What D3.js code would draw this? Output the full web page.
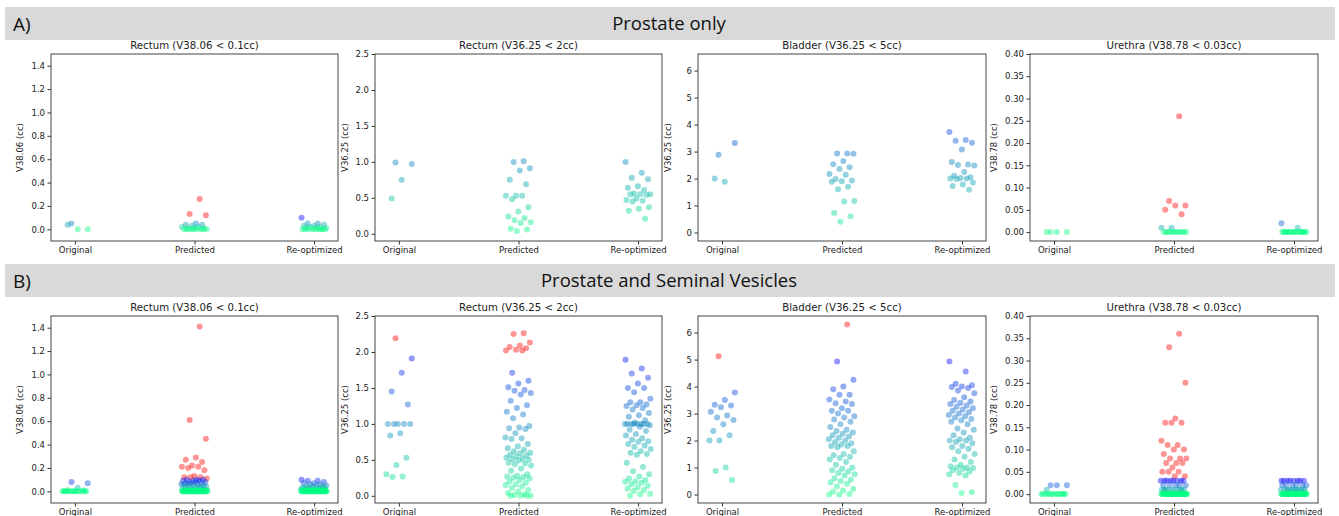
<!DOCTYPE html>
<html>
<head>
<meta charset="utf-8">
<script src="https://cdn.jsdelivr.net/npm/d3@7"></script>
<style>
  body { margin: 0; background: #fff; }
  svg { display: block; font-family: "DejaVu Sans", sans-serif; }
</style>
</head>
<body>
<svg id="chart" width="1339" height="516"></svg>
<script>
const categories = ["Original", "Predicted", "Re-optimized"];
const rowLetters = ["A)", "B)"];
const rowTitles = ["Prostate only", "Prostate and Seminal Vesicles"];
const panelTitles = ["Rectum (V38.06 < 0.1cc)", "Rectum (V36.25 < 2cc)", "Bladder (V36.25 < 5cc)", "Urethra (V38.78 < 0.03cc)"];
const yLabels = ["V38.06 (cc)", "V36.25 (cc)", "V36.25 (cc)", "V38.78 (cc)"];
const limits = [0.1, 2, 5, 0.03];
const yDomains = [[-0.1, 1.5], [-0.1, 2.5], [-0.315, 6.615], [-0.02, 0.4]];
const yTicks = [
  [0, 0.2, 0.4, 0.6, 0.8, 1.0, 1.2, 1.4],
  [0, 0.5, 1.0, 1.5, 2.0, 2.5],
  [0, 1, 2, 3, 4, 5, 6],
  [0, 0.05, 0.10, 0.15, 0.20, 0.25, 0.30, 0.35, 0.40]
];
const yFormats = [".1f", ".1f", "d", ".2f"];

// A) prostate only
const aRect38Orig = [0.05, 0, 0, 0.04];
const aRect38Pred = [0.26, 0.13, 0.12, 0.05, 0.04, 0.04, 0.03, 0.02, 0.02, 0.01, 0.01, 0.01, 0, 0, 0, 0, 0, 0, 0, 0];
const aRect38Reopt = [0.10, 0.05, 0.05, 0.04, 0.03, 0.03, 0.02, 0.02, 0.01, 0.01, 0.01, 0, 0, 0, 0, 0, 0, 0, 0, 0];
const aRect36Orig = [0.99, 0.97, 0.75, 0.49];
const aRect36Pred = [1.01, 1.0, 0.91, 0.88, 0.75, 0.69, 0.53, 0.53, 0.53, 0.48, 0.37, 0.31, 0.24, 0.22, 0.19, 0.16, 0.15, 0.07, 0.06, 0.04];
const aRect36Reopt = [1.0, 0.85, 0.78, 0.76, 0.66, 0.64, 0.61, 0.56, 0.55, 0.55, 0.55, 0.54, 0.49, 0.47, 0.46, 0.45, 0.37, 0.35, 0.32, 0.21];
const aBladOrig = [2.88, 3.32, 1.88, 2.0];
const aBladPred = [2.93, 2.93, 2.92, 2.65, 2.53, 2.42, 2.35, 2.17, 2.14, 1.98, 1.93, 1.9, 1.88, 1.7, 1.6, 1.17, 1.15, 0.72, 0.6, 0.4];
const aBladReopt = [3.72, 3.43, 3.4, 3.33, 3.08, 2.61, 2.52, 2.5, 2.48, 2.24, 2.1, 2.05, 2.02, 2.0, 2.0, 1.98, 1.85, 1.78, 1.72, 1.58];
const aUretOrig = [0, 0, 0, 0];
const aUretPred = [0.26, 0.07, 0.06, 0.06, 0.05, 0.04, 0.01, 0.01, 0, 0, 0, 0, 0, 0, 0, 0, 0, 0, 0, 0];
const aUretReopt = [0.02, 0.01, 0, 0, 0, 0, 0, 0, 0, 0, 0, 0, 0, 0, 0, 0, 0, 0, 0, 0];

// B) prostate and seminal vesicles
const bRect38Orig = [0.08, 0.07, 0.03, 0.01, 0.01, 0, 0, 0, 0, 0, 0, 0, 0, 0, 0, 0, 0, 0, 0, 0];
const bRect38Pred = [1.41, 0.61, 0.45, 0.29, 0.27, 0.25, 0.22, 0.21, 0.21, 0.20, 0.18, 0.13, 0.12, 0.12, 0.12, 0.11,
  0.10, 0.10, 0.10, 0.09, 0.09, 0.09, 0.08, 0.08, 0.08, 0.07, 0.07, 0.07, 0.06, 0.06, 0.06, 0.05, 0.05, 0.05,
  0.04, 0.04, 0.04, 0.03, 0.03, 0.03, 0.02, 0.02, 0.02, 0.02, 0.01, 0.01, 0.01, 0.01, 0.01, 0.01,
  0, 0, 0, 0, 0, 0, 0, 0, 0, 0, 0, 0, 0, 0, 0, 0, 0, 0, 0, 0,
  0, 0, 0, 0, 0, 0, 0, 0, 0, 0, 0, 0, 0, 0, 0, 0, 0, 0, 0, 0];
const bRect38Reopt = [0.10, 0.09, 0.09, 0.08, 0.07, 0.07, 0.06, 0.06, 0.05, 0.05, 0.04, 0.04, 0.04, 0.03, 0.03, 0.03, 0.03,
  0.02, 0.02, 0.02, 0.02, 0.02, 0.01, 0.01, 0.01, 0.01, 0.01, 0.01, 0.01, 0.01, 0.01, 0.01,
  0, 0, 0, 0, 0, 0, 0, 0, 0, 0, 0, 0, 0, 0, 0, 0, 0, 0, 0, 0,
  0, 0, 0, 0, 0, 0, 0, 0, 0, 0, 0, 0, 0, 0, 0, 0, 0, 0, 0, 0];
const bRect36Orig = [2.19, 1.91, 1.71, 1.45, 1.27, 1.0, 1.0, 1.0, 1.0, 1.0, 0.87, 0.84, 0.53, 0.43, 0.30, 0.27, 0.26];
const bRect36Pred = [2.26, 2.25, 2.13, 2.09, 2.07, 2.05, 2.03, 2.02, 2.02,
  1.71, 1.60, 1.56, 1.51, 1.47, 1.46, 1.43, 1.41, 1.32, 1.26, 1.22, 1.17, 1.13, 1.08,
  0.97, 0.95, 0.94, 0.93, 0.87, 0.81, 0.80, 0.79, 0.72, 0.69, 0.66, 0.64, 0.62, 0.60, 0.59, 0.57, 0.56, 0.55,
  0.53, 0.52, 0.51, 0.50, 0.49, 0.46, 0.45, 0.44, 0.42, 0.38, 0.35, 0.30, 0.28, 0.27, 0.26, 0.25, 0.24, 0.22,
  0.20, 0.18, 0.16, 0.15, 0.13, 0.11, 0.08, 0.06, 0.04, 0.02, 0.01, 0, 0, 0, 0];
const bRect36Reopt = [1.89, 1.77, 1.70, 1.64, 1.56, 1.50, 1.50, 1.44, 1.35, 1.30, 1.30, 1.27, 1.26, 1.25, 1.22, 1.20,
  1.15, 1.12, 1.10, 1.05, 1.02, 1.0, 1.0, 1.0, 1.0, 1.0, 1.0, 1.0, 1.0, 0.98, 0.96, 0.92, 0.90, 0.86, 0.84,
  0.80, 0.78, 0.76, 0.75, 0.72, 0.70, 0.68, 0.65, 0.62, 0.60, 0.58, 0.57, 0.46, 0.40, 0.34, 0.30, 0.27, 0.24,
  0.22, 0.20, 0.20, 0.18, 0.16, 0.14, 0.12, 0.10, 0.08, 0.07, 0.03, 0.02, 0];
const bBladOrig = [5.12, 3.78, 3.5, 3.33, 3.3, 3.23, 3.07, 2.93, 2.85, 2.76, 2.6, 2.35, 2.2, 2.0, 2.0, 1.0, 0.87, 0.54];
const bBladPred = [6.3, 4.93, 4.25, 4.0, 3.9, 3.7, 3.7, 3.52, 3.45, 3.38, 3.35, 3.2, 3.1, 3.1, 3.0, 2.9, 2.85, 2.78,
  2.7, 2.6, 2.5, 2.4, 2.35, 2.3, 2.25, 2.2, 2.15, 2.1, 2.05, 2.0, 1.95, 1.9, 1.85, 1.8, 1.8, 1.75, 1.6, 1.5,
  1.45, 1.4, 1.35, 1.3, 1.2, 1.1, 1.0, 0.95, 0.9, 0.85, 0.8, 0.75, 0.7, 0.6, 0.55, 0.5, 0.45, 0.4, 0.3, 0.2,
  0.15, 0.1, 0.02, 0.0, 0.0];
const bBladReopt = [4.93, 4.56, 4.1, 4.05, 4.0, 3.98, 3.95, 3.85, 3.75, 3.6, 3.5, 3.45, 3.4, 3.35, 3.3, 3.25, 3.2,
  3.15, 3.1, 3.05, 3.0, 2.95, 2.9, 2.85, 2.8, 2.75, 2.7, 2.6, 2.45, 2.4, 2.3, 2.2, 2.1, 2.05, 2.0, 2.0, 1.95,
  1.9, 1.8, 1.75, 1.7, 1.6, 1.5, 1.4, 1.3, 1.2, 1.1, 1.05, 1.0, 1.0, 0.98, 0.95, 0.9, 0.85, 0.8, 0.75, 0.7,
  0.35, 0.08, 0.06];
const bUretOrig = [0.02, 0.02, 0.02, 0.01, 0, 0, 0, 0, 0, 0, 0, 0, 0, 0, 0, 0, 0, 0];
const bUretPred = [0.36, 0.33, 0.25, 0.17, 0.16, 0.16, 0.16, 0.12, 0.11, 0.11, 0.10, 0.10, 0.09, 0.08, 0.08, 0.08,
  0.07, 0.07, 0.07, 0.06, 0.05, 0.05, 0.05, 0.04, 0.04,
  0.03, 0.03, 0.03, 0.03, 0.03, 0.03, 0.03, 0.03, 0.02, 0.02, 0.02, 0.02, 0.02,
  0.01, 0.01, 0.01, 0.01, 0.01, 0.01, 0.01, 0.01, 0.01, 0.01,
  0, 0, 0, 0, 0, 0, 0, 0, 0, 0, 0, 0, 0, 0, 0, 0, 0, 0, 0, 0,
  0, 0, 0, 0, 0, 0, 0, 0, 0, 0, 0, 0, 0, 0, 0, 0, 0, 0, 0, 0];
const bUretReopt = [0.03, 0.03, 0.03, 0.03, 0.03, 0.03, 0.03, 0.03, 0.02, 0.02, 0.02, 0.02, 0.02, 0.02,
  0.01, 0.01, 0.01, 0.01, 0.01, 0.01, 0.01, 0.01, 0.01, 0.01, 0.01, 0.01,
  0, 0, 0, 0, 0, 0, 0, 0, 0, 0, 0, 0, 0, 0, 0, 0, 0, 0, 0, 0,
  0, 0, 0, 0, 0, 0, 0, 0, 0, 0, 0, 0, 0, 0, 0, 0, 0, 0, 0, 0];

const rows = [
  [[aRect38Orig, aRect38Pred, aRect38Reopt], [aRect36Orig, aRect36Pred, aRect36Reopt],
   [aBladOrig, aBladPred, aBladReopt], [aUretOrig, aUretPred, aUretReopt]],
  [[bRect38Orig, bRect38Pred, bRect38Reopt], [bRect36Orig, bRect36Pred, bRect36Reopt],
   [bBladOrig, bBladPred, bBladReopt], [bUretOrig, bUretPred, bUretReopt]]
];

// layout
const panelX = [[51, 338], [375, 662], [698, 986], [1030, 1318]];
const rowTop = [54, 316];
const panelH = 187;
const bannerY = [7, 264];

const svg = d3.select("#chart");

// winter_r colormap, red above the constraint
function pointColour(v, lim) {
  if (v > lim + 1e-9) return "rgb(255,0,0)";
  let t = Math.max(0, Math.min(1, v / lim));
  return d3.rgb(0, 255 * (1 - t), 255 * (0.5 + t / 2)).toString();
}

// stable stripplot jitter
let jitter = (i) => (((i * 0.6180339887 + 0.37) % 1) - 0.5) * 0.22;

rows.forEach((panels, r) => {
  svg.append("rect")
    .attr("x", 5).attr("y", bannerY[r])
    .attr("width", 1330).attr("height", 33)
    .attr("fill", "#d9d9d9");
  svg.append("text")
    .attr("x", 13).attr("y", bannerY[r] + 24)
    .style("font-family", "'Open Sans', sans-serif")
    .style("font-size", "19px").attr("fill", "#111")
    .text(rowLetters[r]);
  svg.append("text")
    .attr("x", 669).attr("y", bannerY[r] + 23)
    .attr("text-anchor", "middle")
    .style("font-family", "'Open Sans', sans-serif")
    .style("font-size", "18.5px").attr("fill", "#111")
    .text(rowTitles[r]);

  panels.forEach((groups, p) => {
    let [x0, x1] = panelX[p];
    let top = rowTop[r], bottom = top + panelH;

    let x = d3.scaleLinear().domain([-0.2, 2.2]).range([x0, x1]);
    let y = d3.scaleLinear().domain(yDomains[p]).range([bottom, top]);

    let g = svg.append("g");

    g.append("text")
      .attr("x", (x0 + x1) / 2).attr("y", top - 5)
      .attr("text-anchor", "middle")
      .style("font-size", "10.2px").attr("fill", "#222")
      .text(panelTitles[p]);

    let pts = [];
    groups.forEach((vals, c) => {
      vals.forEach((v, i) => pts.push({ cat: c, v: v, j: jitter(i + c * 7) }));
    });

    g.selectAll("circle").data(pts).enter().append("circle")
      .attr("cx", (d) => x(d.cat + d.j))
      .attr("cy", (d) => y(d.v))
      .attr("r", 3)
      .attr("fill", (d) => pointColour(d.v, limits[p]))
      .attr("fill-opacity", 0.42);

    let yAxis = d3.axisLeft(y)
      .tickValues(yTicks[p])
      .tickFormat(d3.format(yFormats[p]))
      .tickSize(3.5).tickPadding(2.5);
    let xAxis = d3.axisBottom(x)
      .tickValues([0, 1, 2])
      .tickFormat((d) => categories[d])
      .tickSize(3.5).tickPadding(2.5);

    let ya = g.append("g").attr("transform", `translate(${x0},0)`).call(yAxis);
    let xa = g.append("g").attr("transform", `translate(0,${bottom})`).call(xAxis);
    [ya, xa].forEach((a) => {
      a.select(".domain").remove();
      a.selectAll("line").attr("stroke", "#333");
      a.selectAll("text").style("font-size", "8.5px").attr("fill", "#222")
        .style("font-family", "'DejaVu Sans', sans-serif");
    });

    g.append("rect")
      .attr("x", x0).attr("y", top)
      .attr("width", x1 - x0).attr("height", panelH)
      .attr("fill", "none").attr("stroke", "#444").attr("stroke-width", 1);

    let labelX = x0 - (p === 3 ? 33 : (p === 0 ? 28 : 27));
    g.append("text")
      .attr("transform", `translate(${labelX},${(top + bottom) / 2}) rotate(-90)`)
      .attr("text-anchor", "middle")
      .style("font-size", "8.5px").attr("fill", "#222")
      .text(yLabels[p]);
  });
});
</script>
</body>
</html>
